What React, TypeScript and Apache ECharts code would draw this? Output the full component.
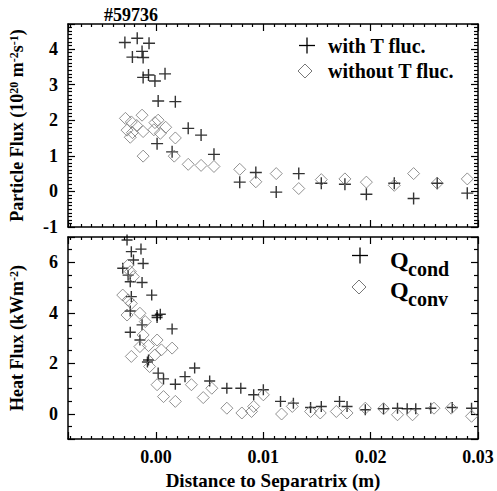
import React, { useEffect, useRef } from 'react';
import * as echarts from 'echarts';

const FONT = 'Liberation Serif';

// Particle flux (10^20 m^-2 s^-1) vs distance to separatrix (m)
const particleWithT: number[][] = [
  [-0.0029, 4.18], [-0.00175, 4.3], [-0.00065, 4.16], [-0.0022, 3.77], [-0.0013, 3.93],
  [-0.0012, 3.76], [-0.0012, 3.2], [-0.0007, 3.27], [-0.0001, 3.1], [0.00084, 3.3],
  [0.0002, 2.54], [0.0018, 2.52], [0.003, 1.77], [0.0042, 1.58], [0.0001, 1.34],
  [0.0015, 1.11], [0.0054, 1.04], [0.0078, 0.26], [0.0093, 0.53], [0.0112, -0.02],
  [0.0133, 0.5], [0.0154, 0.23], [0.0176, 0.2], [0.0196, -0.08], [0.0222, 0.23],
  [0.024, -0.2], [0.0262, 0.23], [0.029, -0.05],
];
const particleWithoutT: number[][] = [
  [-0.00285, 2.05], [-0.0023, 1.95], [-0.0027, 1.72], [-0.0022, 1.65], [-0.0024, 1.52],
  [-0.0018, 1.85], [-0.0013, 2.14], [-0.0012, 1.68], [-0.0001, 1.93], [0.0002, 2.0],
  [-0.0002, 1.73], [0.0004, 1.63], [0.0009, 1.8], [0.0018, 1.5], [-0.0012, 0.99],
  [0.0017, 0.99], [0.003, 0.76], [0.0042, 0.73], [0.0054, 0.7], [0.0078, 0.62],
  [0.0093, 0.27], [0.0112, 0.5], [0.0133, 0.08], [0.0154, 0.33], [0.0176, 0.35],
  [0.0196, 0.26], [0.0222, 0.17], [0.024, 0.5], [0.0262, 0.23], [0.029, 0.35],
];

// Heat flux (kW m^-2)
const heatCond: number[][] = [
  [-0.0027, 6.88], [-0.0023, 6.42], [-0.0014, 6.52], [-0.0021, 6.09], [-0.0031, 5.76],
  [-0.0012, 5.95], [-0.0026, 5.49], [-0.0024, 5.23], [-0.0013, 5.2], [-0.0004, 4.7],
  [-0.0023, 4.64], [-0.0024, 4.07], [0.0001, 3.89], [0.0004, 3.94], [0.0001, 3.81],
  [-0.0013, 3.52], [0.0015, 3.36], [-0.0024, 3.23], [-0.0015, 2.92], [-0.0007, 2.13],
  [-0.0008, 2.05], [0.0002, 1.61], [0.0007, 1.38], [0.0018, 1.17], [0.0027, 1.47],
  [0.0036, 1.81], [0.005, 1.3], [0.0066, 1.01], [0.0079, 1.01], [0.0091, 0.75],
  [0.01, 0.95], [0.0116, 0.49], [0.0128, 0.42], [0.0144, 0.25], [0.0154, 0.29],
  [0.0171, 0.49], [0.0178, 0.29], [0.0195, 0.16], [0.0212, 0.2], [0.0225, 0.22],
  [0.0234, 0.2], [0.0242, 0.2], [0.0256, 0.22], [0.0276, 0.25], [0.0294, 0.22],
];
const heatConv: number[][] = [
  [-0.0026, 5.89], [-0.0024, 5.63], [-0.0021, 5.43], [-0.0031, 4.7], [-0.0026, 4.51],
  [-0.0023, 4.37], [-0.0027, 3.91], [-0.0015, 3.98], [-0.001, 3.65], [-0.0012, 3.12],
  [-0.0015, 2.66], [-0.0007, 2.7], [0.0001, 2.92], [0.0005, 2.53], [0.0015, 2.6],
  [-0.0023, 2.27], [-0.0006, 1.87], [-0.0001, 2.33], [0.0001, 1.15], [0.0007, 0.68],
  [0.0018, 0.49], [0.0033, 1.15], [0.0044, 0.64], [0.0052, 1.01], [0.0066, 0.22],
  [0.008, 0.03], [0.0089, 0.09], [0.0091, 0.29], [0.01, 0.75], [0.0117, -0.01],
  [0.0127, 0.29], [0.0144, 0.09], [0.0153, 0.03], [0.0168, 0.09], [0.0178, 0.03],
  [0.0195, 0.22], [0.0212, 0.2], [0.0225, -0.04], [0.0239, -0.04], [0.0259, 0.22],
  [0.0275, 0.22], [0.0294, -0.1],
];

const X_MIN = -0.0082;
const X_MAX = 0.03;
const PLUS = 'path://M0,6L12,6M6,0L6,12';

const lineStyle = { color: '#000', width: 1.5 };
const tickStyle = { color: '#000', width: 1.2 };

const xFmt = (v: number) => (Math.abs(v * 100 - Math.round(v * 100)) < 1e-6 ? v.toFixed(2) : '');

function mkX(gridIndex: number, position: 'top' | 'bottom', labels: boolean, name?: string) {
  return {
    type: 'value', gridIndex, position, min: X_MIN, max: X_MAX, splitNumber: 4,
    axisLine: { show: true, onZero: false, lineStyle },
    axisTick: { show: true, inside: true, length: 7, lineStyle: tickStyle },
    minorTick: { show: true, splitNumber: 10, length: 3, lineStyle: tickStyle },
    splitLine: { show: false },
    axisLabel: {
      show: labels, margin: 9, formatter: xFmt, fontFamily: FONT, fontWeight: 'bold',
      fontSize: 18, color: '#000', showMinLabel: false,
    },
    name: name || '', nameLocation: 'middle', nameGap: 32,
    nameTextStyle: { fontFamily: FONT, fontWeight: 'bold', fontSize: 19, color: '#000' },
  };
}

const supRich = {
  t: { fontFamily: FONT, fontWeight: 'bold', fontSize: 18, color: '#000' },
  sup: { fontFamily: FONT, fontWeight: 'bold', fontSize: 12, color: '#000', verticalAlign: 'top' },
};

function mkY(gridIndex: number, position: 'left' | 'right', extra: any, labelFmt: ((v: number) => string) | null, name?: string) {
  return {
    type: 'value', gridIndex, position, ...extra,
    axisLine: { show: true, onZero: false, lineStyle },
    axisTick: { show: true, inside: true, length: 7, lineStyle: tickStyle },
    minorTick: { show: true, splitNumber: extra.minorSplit, length: 4, lineStyle: tickStyle },
    splitLine: { show: false },
    axisLabel: {
      show: !!labelFmt, margin: 10, formatter: labelFmt || undefined, fontFamily: FONT,
      fontWeight: 'bold', fontSize: 18, color: '#000',
    },
    name: name || '', nameLocation: 'middle', nameGap: 42,
    nameTextStyle: { fontFamily: FONT, fontWeight: 'bold', fontSize: 18, color: '#000', rich: supRich },
  };
}

const topYFmt = (v: number) => (Math.abs(v - Math.round(v)) < 1e-9 ? String(Math.round(v)) : '');
const botYFmt = (v: number) => {
  const r = Math.round(v);
  return Math.abs(v - r) < 1e-9 && r % 2 === 0 && r >= 0 && r <= 6 ? String(r) : '';
};

export default function App() {
  const ref = useRef<HTMLDivElement>(null);
  useEffect(() => {
    if (!ref.current) return;
    const chart = echarts.init(ref.current, undefined, { renderer: 'svg' });
    const plusStyle = { color: 'transparent', borderColor: '#000', borderWidth: 1.4 };
    const diaStyle = { color: 'transparent', borderColor: '#777', borderWidth: 1 };
    const txt = (text: string, x: number, y: number, size: number, align = 'left') => ({
      type: 'text', x, y, silent: true,
      style: {
        text, fill: '#000', fontFamily: FONT, fontWeight: 'bold', fontSize: size,
        textAlign: align, textVerticalAlign: 'middle',
      },
    });
    const plusG = (cx: number, cy: number, h: number) => [
      { type: 'line', shape: { x1: cx - h, y1: cy, x2: cx + h, y2: cy }, style: { stroke: '#000', lineWidth: 1.3 } },
      { type: 'line', shape: { x1: cx, y1: cy - h, x2: cx, y2: cy + h }, style: { stroke: '#000', lineWidth: 1.3 } },
    ];
    const diaG = (cx: number, cy: number, h: number) => ({
      type: 'polygon',
      shape: { points: [[cx, cy - h], [cx + h, cy], [cx, cy + h], [cx - h, cy]] },
      style: { fill: 'none', stroke: '#777', lineWidth: 1 },
    });
    chart.setOption({
      animation: false,
      backgroundColor: '#fff',
      grid: [
        { left: 68, top: 24, right: 19, height: 203 },
        { left: 68, top: 237, right: 19, height: 202 },
      ],
      xAxis: [
        mkX(0, 'bottom', false),
        mkX(0, 'top', false),
        mkX(1, 'bottom', true, 'Distance to Separatrix (m)'),
        mkX(1, 'top', false),
      ],
      yAxis: [
        mkY(0, 'left', { min: -1, max: 4.7, interval: 1, minorSplit: 10 }, topYFmt,
          '{t|Particle Flux (10}{sup|20}{t| m}{sup|-2}{t|s}{sup|-1}{t|)}'),
        mkY(0, 'right', { min: -1, max: 4.7, interval: 1, minorSplit: 10 }, null),
        mkY(1, 'left', { min: -1, max: 7, splitNumber: 4, minorSplit: 4 }, botYFmt,
          '{t|Heat Flux (kWm}{sup|-2}{t|)}'),
        mkY(1, 'right', { min: -1, max: 7, splitNumber: 4, minorSplit: 4 }, null),
      ],
      series: [
        { type: 'scatter', name: 'with T fluc.', xAxisIndex: 0, yAxisIndex: 0, data: particleWithT, symbol: PLUS, symbolSize: 12, itemStyle: plusStyle },
        { type: 'scatter', name: 'without T fluc.', xAxisIndex: 0, yAxisIndex: 0, data: particleWithoutT, symbol: 'diamond', symbolSize: 12, itemStyle: diaStyle },
        { type: 'scatter', name: 'Qcond', xAxisIndex: 2, yAxisIndex: 2, data: heatCond, symbol: PLUS, symbolSize: 11, itemStyle: plusStyle },
        { type: 'scatter', name: 'Qconv', xAxisIndex: 2, yAxisIndex: 2, data: heatConv, symbol: 'diamond', symbolSize: 12, itemStyle: diaStyle },
      ],
      graphic: [
        txt('#59736', 131, 15, 18, 'center'),
        ...plusG(307, 45.5, 8),
        diaG(305, 71, 7),
        txt('with T fluc.', 328, 46, 20),
        txt('without T fluc.', 328, 71, 20),
        ...plusG(360, 255.5, 8),
        diaG(359, 287, 7),
        txt('Q', 390, 260, 24),
        txt('cond', 408, 269, 20),
        txt('Q', 390, 290, 24),
        txt('conv', 408, 299, 20),
      ],
    });
    return () => chart.dispose();
  }, []);
  return <div ref={ref} style={{ width: 497, height: 491, position: 'absolute', left: 0, top: 0 }} />;
}
